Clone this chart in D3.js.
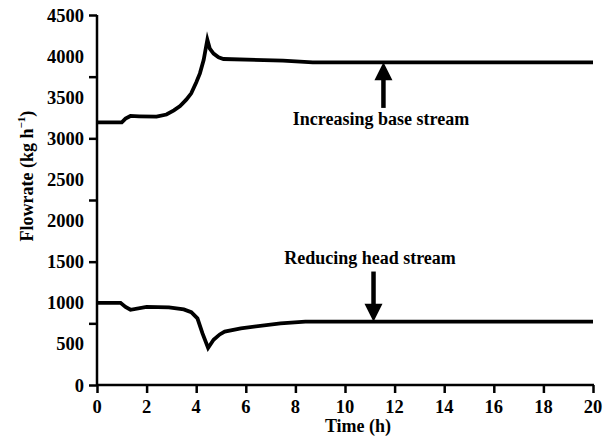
<!DOCTYPE html>
<html>
<head>
<meta charset="utf-8">
<script src="https://cdn.jsdelivr.net/npm/d3@7.9.0/dist/d3.min.js"></script>
<style>
  body { margin: 0; background: #fff; }
  text { font-family: "Liberation Serif", "Times New Roman", serif; fill: #000; font-weight: bold; }
</style>
</head>
<body>
<svg width="608" height="445"></svg>
<script>
// time axis (h)
const baseTime = [0, 1.0, 1.15, 1.35, 1.7, 2.4, 2.8, 3.1, 3.35, 3.6, 3.8, 4.0, 4.15, 4.3, 4.45, 4.55, 4.7, 4.9, 5.1, 7.5, 8.7, 20];
const baseFlow = [3195, 3195, 3240, 3272, 3268, 3263, 3290, 3340, 3393, 3470, 3547, 3680, 3790, 3953, 4200, 4090, 4030, 3985, 3965, 3945, 3925, 3925];

const headTime = [0, 0.95, 1.15, 1.35, 2.0, 2.9, 3.5, 3.8, 4.05, 4.25, 4.48, 4.7, 4.95, 5.15, 5.8, 7.4, 8.4, 20];
const headFlow = [1000, 1000, 950, 915, 950, 945, 920, 885, 810, 630, 450, 550, 615, 650, 690, 750, 770, 770];

const xTicks = [0, 2, 4, 6, 8, 10, 12, 14, 16, 18, 20];
const yLabels = [0, 500, 1000, 1500, 2000, 2500, 3000, 3500, 4000, 4500];
const yMarks = [0, 750, 1500, 2250, 3000, 3750, 4500];

// arrows: [time, tip value, tail value]
const upArrow = [11.55, 3925, 3370];
const downArrow = [11.15, 770, 1380];

const svg = d3.select('svg');
const x = d3.scaleLinear().domain([0, 20]).range([97, 593]);
const y = d3.scaleLinear().domain([0, 4500]).range([385, 15]);

// axes
svg.append('g')
  .attr('transform', 'translate(0,385)')
  .call(d3.axisBottom(x).tickValues(xTicks).tickSize(8).tickFormat(''))
  .call(g => g.selectAll('path,line').attr('stroke', '#000').attr('stroke-width', 2.5))
  .call(g => g.select('.domain').attr('d', `M${x(0)},0H${x(20) + 1}`));

svg.append('g')
  .attr('transform', 'translate(97,0)')
  .call(d3.axisLeft(y).tickValues(yMarks).tickSize(8).tickFormat(''))
  .call(g => g.selectAll('path,line').attr('stroke', '#000').attr('stroke-width', 2.5))
  .call(g => g.select('.domain').attr('d', `M0,${y(4500)}V${y(0) + 1}`));

svg.append('g').selectAll('text').data(xTicks).join('text')
  .attr('x', d => x(d)).attr('y', 412.5)
  .attr('text-anchor', 'middle').attr('font-size', 18.5)
  .text(d => d);

svg.append('g').selectAll('text').data(yLabels).join('text')
  .attr('x', 84).attr('y', d => y(d) + 6.5)
  .attr('text-anchor', 'end').attr('font-size', 18.5)
  .text(d => d);

svg.append('text')
  .attr('x', 358).attr('y', 432)
  .attr('text-anchor', 'middle').attr('font-size', 18)
  .text('Time (h)');

const yl = svg.append('text')
  .attr('transform', 'translate(33,176) rotate(-90)')
  .attr('text-anchor', 'middle').attr('font-size', 18);
yl.append('tspan').text('Flowrate (kg h');
yl.append('tspan').attr('font-size', 11).attr('dy', -8).text('\u22121');
yl.append('tspan').attr('dy', 8).text(')');

// lines
const line = d3.line().x(d => x(d[0])).y(d => y(d[1]));
svg.append('path')
  .datum(d3.zip(baseTime, baseFlow))
  .attr('d', line).attr('fill', 'none')
  .attr('stroke', '#000').attr('stroke-width', 3.8)
  .attr('stroke-linejoin', 'miter').attr('stroke-miterlimit', 10);
svg.append('path')
  .datum(d3.zip(headTime, headFlow))
  .attr('d', line).attr('fill', 'none')
  .attr('stroke', '#000').attr('stroke-width', 3.8)
  .attr('stroke-linejoin', 'miter').attr('stroke-miterlimit', 10);

// arrows
function arrow(a) {
  const ax = x(a[0]), tip = y(a[1]), tail = y(a[2]);
  const dir = tail > tip ? 1 : -1;
  const head = 17;
  svg.append('line')
    .attr('x1', ax).attr('x2', ax)
    .attr('y1', tip + dir * head).attr('y2', tail)
    .attr('stroke', '#000').attr('stroke-width', 4.5);
  svg.append('path')
    .attr('d', `M${ax},${tip}L${ax - 9},${tip + dir * (head + 1)}L${ax + 9},${tip + dir * (head + 1)}Z`)
    .attr('fill', '#000');
}
arrow(upArrow);
arrow(downArrow);

svg.append('text')
  .attr('x', 381).attr('y', 124.5)
  .attr('text-anchor', 'middle').attr('font-size', 18)
  .text('Increasing base stream');
svg.append('text')
  .attr('x', 370).attr('y', 264.3)
  .attr('text-anchor', 'middle').attr('font-size', 18)
  .text('Reducing head stream');
</script>
</body>
</html>
